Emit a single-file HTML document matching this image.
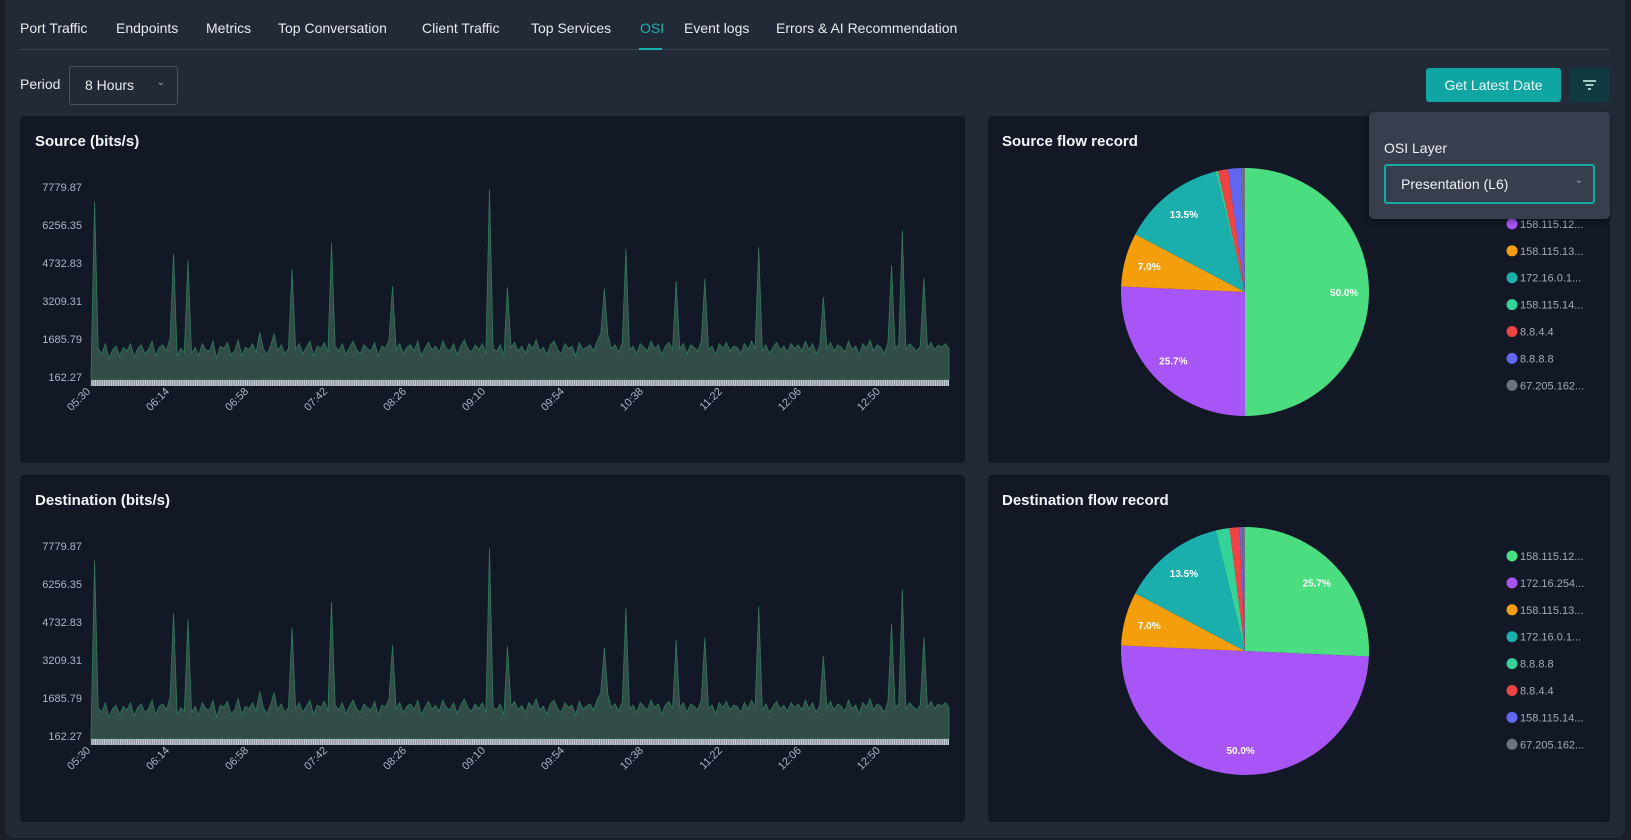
<!DOCTYPE html>
<html><head><meta charset="utf-8">
<style>
*{box-sizing:border-box;margin:0;padding:0}
body{width:1631px;height:840px;overflow:hidden;background:#1a1f2a;font-family:"Liberation Sans",sans-serif;position:relative}
.wrap{position:absolute;left:5px;top:0;width:1620px;height:838px;background:#222a38;border-radius:0 0 8px 8px}
.abs{position:absolute}
.tab{position:absolute;top:20px;font-size:14px;color:#e8eaef;white-space:nowrap}
.panel{position:absolute;background:#121826;border-radius:4px}
.title{position:absolute;font-size:15px;font-weight:bold;color:#f3f4f6}
</style></head><body>
<div class="wrap"></div>
<div class="tab" style="left:20px">Port Traffic</div>
<div class="tab" style="left:116px">Endpoints</div>
<div class="tab" style="left:206px">Metrics</div>
<div class="tab" style="left:278px">Top Conversation</div>
<div class="tab" style="left:422px">Client Traffic</div>
<div class="tab" style="left:531px">Top Services</div>
<div class="tab" style="left:640px;color:#17b3ad">OSI</div>
<div class="tab" style="left:684px">Event logs</div>
<div class="tab" style="left:776px">Errors &amp; AI Recommendation</div>
<div class="abs" style="left:20px;top:49px;width:1590px;height:1px;background:#3a4352"></div>
<div class="abs" style="left:639px;top:48px;width:23px;height:2px;background:#17b3ad"></div>
<div class="abs" style="left:20px;top:76px;font-size:14px;color:#e8eaef">Period</div>
<div class="abs" style="left:69px;top:66px;width:109px;height:39px;border:1px solid #4a5262;border-radius:3px;font-size:14px;color:#e8eaef;padding:10px 0 0 15px">8 Hours<span style="position:absolute;right:12px;top:10px;font-size:10px;color:#9aa3b2">&#8964;</span></div>
<div class="abs" style="left:1426px;top:68px;width:135px;height:34px;background:#0ea5a3;border-radius:3px;color:#e9fbfa;font-size:14px;text-align:center;line-height:34px">Get Latest Date</div>
<div class="abs" style="left:1569px;top:68px;width:41px;height:34px;background:#0f3a3f;border-radius:3px">
<svg width="41" height="34"><g stroke="#cfe" stroke-width="1.5"><line x1="14" y1="13" x2="27" y2="13"/><line x1="16.5" y1="17" x2="24.5" y2="17"/><line x1="19" y1="21" x2="22" y2="21"/></g></svg></div>

<div class="panel" style="left:20px;top:116px;width:945px;height:347px"></div>
<div class="panel" style="left:988px;top:116px;width:622px;height:347px"></div>
<div class="panel" style="left:20px;top:475px;width:945px;height:347px"></div>
<div class="panel" style="left:988px;top:475px;width:622px;height:347px"></div>
<div class="title" style="left:35px;top:133px">Source (bits/s)</div>
<div class="title" style="left:1002px;top:133px">Source flow record</div>
<div class="title" style="left:35px;top:492px">Destination (bits/s)</div>
<div class="title" style="left:1002px;top:492px">Destination flow record</div>

<svg id="svg" class="abs" style="left:0;top:0" width="1631" height="840"></svg>

<div class="abs" style="left:1369px;top:112px;width:241px;height:107px;background:#373f4e;border-radius:5px;box-shadow:0 2px 6px rgba(0,0,0,.4)">
<div class="abs" style="left:15px;top:28px;font-size:14px;color:#eef0f3">OSI Layer</div>
<div class="abs" style="left:15px;top:52px;width:211px;height:40px;border:2px solid #14a9a4;border-radius:3px;font-size:14px;color:#eef0f3;padding:10px 0 0 15px">Presentation (L6)<span style="position:absolute;right:10px;top:9px;font-size:10px;color:#9aa3b2">&#8964;</span></div>
</div>

<script>
const timeLabels=["05:30","06:14","06:58","07:42","08:26","09:10","09:54","10:38","11:22","12:06","12:50"];
const yTickLabels=["162.27","1685.79","3209.31","4732.83","6256.35","7779.87"];
const sourceValues=[200,7200,1300,1100,1500,900,1250,1400,1000,1350,1200,1500,950,1300,1450,1100,1250,1600,1000,1350,
1450,1200,1700,5100,1000,1300,1150,4850,1100,1350,1000,1500,1250,1200,1600,900,1400,1300,1550,1050,
1200,1650,1000,1350,1250,1500,1150,1950,1300,1050,1400,1900,1200,1450,1100,1300,4500,1250,1500,1100,
1350,1600,1000,1400,1300,1550,1150,5550,1400,1200,1500,1050,1350,1600,1250,1100,1450,1300,1200,1550,
1000,1400,1300,1650,3800,1250,1500,1100,1350,1450,1200,1600,1000,1300,1550,1250,1400,1150,1600,1300,
1200,1500,1050,1400,1650,1300,1150,1450,1250,1500,1100,7700,1300,1200,1450,1000,3760,1350,1550,1200,
1400,1100,1500,1300,1650,1200,1350,1050,1450,1600,1250,1100,1500,1300,1400,1000,1550,1250,1350,1450,
1200,1600,1900,3700,1800,1300,1450,1150,1550,5300,1250,1400,1100,1500,1350,1200,1600,1300,1450,1050,
1400,1550,1250,4000,1300,1500,1100,1450,1350,1200,1600,4100,1250,1400,1050,1500,1300,1550,1200,1400,
1350,1100,1500,1250,1600,1300,5370,1200,1450,1100,1350,1550,1250,1400,1150,1500,1300,1450,1200,1600,
1250,1500,1100,1400,3370,1300,1550,1200,1450,1350,1150,1600,1250,1400,1050,1500,1300,1650,1200,1450,
1350,1100,1550,4650,1300,1450,6050,1250,1500,1350,1200,1400,4130,1300,1550,1250,1450,1350,1500,1300];
const destValues=[200,7200,1300,1100,1500,900,1250,1400,1000,1350,1200,1500,950,1300,1450,1100,1250,1600,1000,1350,
1450,1200,1700,5100,1000,1300,1150,4850,1100,1350,1000,1500,1250,1200,1600,900,1400,1300,1550,1050,
1200,1650,1000,1350,1250,1500,1150,1950,1300,1050,1400,1900,1200,1450,1100,1300,4500,1250,1500,1100,
1350,1600,1000,1400,1300,1550,1150,5550,1400,1200,1500,1050,1350,1600,1250,1100,1450,1300,1200,1550,
1000,1400,1300,1650,3800,1250,1500,1100,1350,1450,1200,1600,1000,1300,1550,1250,1400,1150,1600,1300,
1200,1500,1050,1400,1650,1300,1150,1450,1250,1500,1100,7700,1300,1200,1450,1000,3760,1350,1550,1200,
1400,1100,1500,1300,1650,1200,1350,1050,1450,1600,1250,1100,1500,1300,1400,1000,1550,1250,1350,1450,
1200,1600,1900,3700,1800,1300,1450,1150,1550,5300,1250,1400,1100,1500,1350,1200,1600,1300,1450,1050,
1400,1550,1250,4000,1300,1500,1100,1450,1350,1200,1600,4100,1250,1400,1050,1500,1300,1550,1200,1400,
1350,1100,1500,1250,1600,1300,5370,1200,1450,1100,1350,1550,1250,1400,1150,1500,1300,1450,1200,1600,
1250,1500,1100,1400,3370,1300,1550,1200,1450,1350,1150,1600,1250,1400,1050,1500,1300,1650,1200,1450,
1350,1100,1550,4650,1300,1450,6050,1250,1500,1350,1200,1400,4130,1300,1550,1250,1450,1350,1500,1300];
const srcPieLabels=["158.115.14...","158.115.12...","158.115.13...","172.16.0.1...","158.115.14...","8.8.4.4","8.8.8.8","67.205.162..."];
const srcPieValues=[50.0,25.7,7.0,13.5,0.3,1.3,1.7,0.5];
const srcPieColors=["#4ade80","#a855f7","#f59e0b","#1aafad","#34d399","#ef4444","#6366f1","#6b7280"];
const dstPieLabels=["158.115.12...","172.16.254...","158.115.13...","172.16.0.1...","8.8.8.8","8.8.4.4","158.115.14...","67.205.162..."];
const dstPieValues=[25.7,50.0,7.0,13.5,1.8,1.3,0.3,0.4];
const dstPieColors=["#4ade80","#a855f7","#f59e0b","#1aafad","#34d399","#ef4444","#6366f1","#6b7280"];

const NS="http://www.w3.org/2000/svg";
const svg=document.getElementById('svg');
function mk(tag,attrs,parent){const e=document.createElementNS(NS,tag);for(const k in attrs)e.setAttribute(k,attrs[k]);(parent||svg).appendChild(e);return e;}

function areaChart(values,top,name){
  const x0=91,x1=949,yMin=162.27,yMax=7779.87;
  const yBot=top+261,yTop=top+71; // 162.27 at y=377 (top=116)
  const ys=v=>yBot-(v-yMin)/(yMax-yMin)*(yBot-yTop);
  const xs=i=>x0+i*(x1-x0)/(values.length-1);
  const g=mk('g',{});
  
  
  yTickLabels.forEach((t,i)=>{
    const v=parseFloat(t);
    const tx=mk('text',{x:82,y:ys(v)+4,'text-anchor':'end','font-size':'11','fill':'#aab4c5','font-family':'Liberation Sans, sans-serif'},g);
    tx.textContent=t;
    
    
  });
  const base=yBot+3;
  let d='M'+xs(0)+','+base;
  values.forEach((v,i)=>{d+=' L'+xs(i).toFixed(2)+','+ys(Math.max(v,yMin)).toFixed(2);});
  d+=' L'+xs(values.length-1)+','+base+' Z';
  const a=mk('path',{d:d,fill:'#324d48',stroke:'#2f7a5a','stroke-width':'0.8'},g);
  
  
  mk('rect',{x:x0,y:base,width:x1-x0,height:6,fill:'#c9ced6'},g);
  for(let i=0;i<values.length*2;i++){
    mk('line',{x1:x0+i*(x1-x0)/(values.length*2),x2:x0+i*(x1-x0)/(values.length*2),y1:base,y2:base+6,stroke:'#6b7280','stroke-width':'0.6'},g);
  }
  timeLabels.forEach((t,k)=>{
    const x=xs(k*22);
    const tx=mk('text',{x:x,y:base+12,'text-anchor':'end','font-size':'11','fill':'#aab4c5','font-family':'Liberation Sans, sans-serif',transform:'rotate(-45 '+x+' '+(base+12)+')'},g);
    tx.textContent=t;
    
    
  });
}
areaChart(sourceValues,116,'source');
areaChart(destValues,475,'destination');

function pie(values,colors,labels,cx,cy,r,legendY,name,skipFirstLegend){
  const g=mk('g',{});
  
  
  const total=values.reduce((a,b)=>a+b,0);
  let ang=-Math.PI/2;
  values.forEach((v,i)=>{
    const a2=ang+v/total*2*Math.PI;
    const large=(a2-ang)>Math.PI?1:0;
    const p=mk('path',{d:`M${cx},${cy} L${cx+r*Math.cos(ang)},${cy+r*Math.sin(ang)} A${r},${r} 0 ${large} 1 ${cx+r*Math.cos(a2)},${cy+r*Math.sin(a2)} Z`,fill:colors[i]},g);
    
    
    if(v>=5){
      const m=(ang+a2)/2;
      const t=mk('text',{x:cx+0.8*r*Math.cos(m),y:cy+0.8*r*Math.sin(m)+4,'text-anchor':'middle','font-size':'10','font-weight':'bold',fill:'#fff','font-family':'Liberation Sans, sans-serif'},g);
      t.textContent=v.toFixed(1)+'%';
      
      
    }
    ang=a2;
  });
  labels.forEach((l,i)=>{
    const y=legendY+i*26.9;
    const c=mk('circle',{cx:1512,cy:y,r:5.5,fill:colors[i]},g);
    
    
    const t=mk('text',{x:1520,y:y+4,'font-size':'11',fill:'#a3abb8','font-family':'Liberation Sans, sans-serif'},g);
    t.textContent=l;
    
    
  });
}
pie(srcPieValues,srcPieColors,srcPieLabels,1245,292,124,197,'source-flow');
pie(dstPieValues,dstPieColors,dstPieLabels,1245,651,124,556,'destination-flow');
</script>
</body></html>
